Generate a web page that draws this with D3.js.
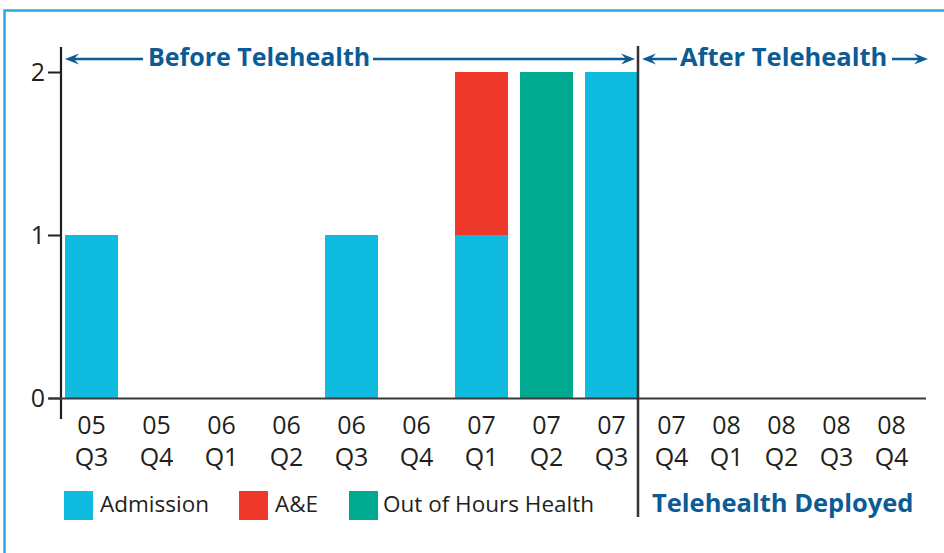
<!DOCTYPE html>
<html><head><meta charset="utf-8">
<script src="https://cdn.jsdelivr.net/npm/d3@7"></script>
<style>
body{margin:0;background:#fff}
svg{display:block}
text{font-family:"Open Sans",sans-serif}
</style>
</head><body>
<svg id="chart" width="944" height="553"></svg>
<script>
// ---------- data ----------
const categories = ["05 Q3","05 Q4","06 Q1","06 Q2","06 Q3","06 Q4","07 Q1","07 Q2","07 Q3","07 Q4","08 Q1","08 Q2","08 Q3","08 Q4"];
const admission  = [1,0,0,0,1,0,1,0,2,0,0,0,0,0];
const aAndE      = [0,0,0,0,0,0,1,0,0,0,0,0,0,0];
const outOfHours = [0,0,0,0,0,0,0,2,0,0,0,0,0,0];
const seriesNames = ["Admission","A&E","Out of Hours Health"];
const seriesColors = ["#10bbe0","#ee382a","#00aa91"];
const yTicks = [0,1,2];
const deployIndex = 9; // first period after telehealth
const beforeLabel = "Before Telehealth";
const afterLabel = "After Telehealth";
const deployedLabel = "Telehealth Deployed";

// ---------- setup ----------
const svg = d3.select("#chart");
const ink = "#231f20", blue = "#0b5c96";

svg.append("rect").attr("x",4.5).attr("y",10.5).attr("width",960).attr("height",580)
  .attr("fill","none").attr("stroke","#29abe2").attr("stroke-width",2.5);

const before = categories.slice(0, deployIndex), after = categories.slice(deployIndex);
const xBefore = d3.scaleBand().domain(before).range([59,644]).paddingInner(12/65).paddingOuter(6/65);
const xAfter  = d3.scaleBand().domain(after).range([644,919]).paddingInner(12/65).paddingOuter(6/65);
const xOf = c => before.includes(c) ? xBefore(c) : xAfter(c);
const bwOf = c => before.includes(c) ? xBefore.bandwidth() : xAfter.bandwidth();
const y = d3.scaleLinear().domain([0,2]).range([398,72]);

// stacked data
const rows = categories.map((c,i)=>({cat:c, s0:admission[i], s1:aAndE[i], s2:outOfHours[i]}));
const stack = d3.stack().keys(["s0","s1","s2"])(rows);
svg.append("g").selectAll("g").data(stack).join("g")
  .attr("fill",(d,i)=>seriesColors[i])
  .selectAll("rect").data(d=>d.filter(p=>p[1]-p[0]>0)).join("rect")
  .attr("x",d=>xOf(d.data.cat)).attr("width",d=>bwOf(d.data.cat))
  .attr("y",d=>y(d[1])).attr("height",d=>y(d[0])-y(d[1]));

// y axis
const gy = svg.append("g").attr("transform","translate(61,0)")
  .call(d3.axisLeft(y).tickValues(yTicks).tickFormat(d3.format("d")).tickSize(13).tickPadding(3));
gy.select(".domain").remove();
gy.selectAll(".tick line").attr("stroke",ink).attr("stroke-width",2);
gy.selectAll(".tick text").attr("font-size",25).attr("fill",ink).attr("font-family","Open Sans");
svg.append("line").attr("x1",61).attr("x2",61).attr("y1",47).attr("y2",419)
  .attr("stroke",ink).attr("stroke-width",2.2);

// x axis
function xAxis(scale){
  const g = svg.append("g").attr("transform","translate(0,398)")
    .call(d3.axisBottom(scale).tickSize(0));
  g.select(".domain").remove();
  g.selectAll(".tick text").each(function(d){
    const t = d3.select(this).text(null).attr("y",null).attr("dy",null)
      .attr("font-size",25).attr("fill",ink).attr("font-family","Open Sans");
    const parts = d.split(" ");
    t.append("tspan").attr("x",0).attr("y",36).text(parts[0]);
    t.append("tspan").attr("x",0).attr("y",68).text(parts[1]);
  });
}
xAxis(xBefore); xAxis(xAfter);
svg.append("line").attr("x1",49).attr("x2",926).attr("y1",398.5).attr("y2",398.5)
  .attr("stroke","#3a3a3a").attr("stroke-width",2);

// divider
svg.append("line").attr("x1",638).attr("x2",638).attr("y1",46).attr("y2",517)
  .attr("stroke","#333").attr("stroke-width",2.5);

// arrows & headings
function arrow(x1, x2, yy){ // x2 = tip
  const dir = Math.sign(x2 - x1);
  svg.append("line").attr("x1",x1).attr("x2",x2 - dir*8).attr("y1",yy).attr("y2",yy)
    .attr("stroke",blue).attr("stroke-width",2.5);
  svg.append("path")
    .attr("d",`M${x2},${yy} L${x2-dir*14},${yy-5.5} L${x2-dir*9},${yy} L${x2-dir*14},${yy+5.5} Z`)
    .attr("fill",blue);
}
arrow(143,65,59); arrow(373,635,59);
arrow(677,642,59); arrow(892,928,59);
svg.append("text").attr("x",148).attr("y",66).attr("font-size",25).attr("font-weight","bold")
  .attr("fill",blue).text(beforeLabel);
svg.append("text").attr("x",680).attr("y",66).attr("font-size",25.5).attr("font-weight","bold")
  .attr("fill",blue).text(afterLabel);
svg.append("text").attr("x",652).attr("y",512).attr("font-size",25.5).attr("font-weight","bold")
  .attr("fill",blue).text(deployedLabel);

// legend
const legX = [64,239,349];
const lg = svg.append("g").selectAll("g").data(seriesNames).join("g")
  .attr("transform",(d,i)=>`translate(${legX[i]},491)`);
lg.append("rect").attr("width",29).attr("height",29).attr("fill",(d,i)=>seriesColors[i]);
lg.append("text").attr("x",(d,i)=>i===2?34:36).attr("y",21).attr("font-size",22.5).attr("fill",ink).text(d=>d);
</script>
</body></html>
